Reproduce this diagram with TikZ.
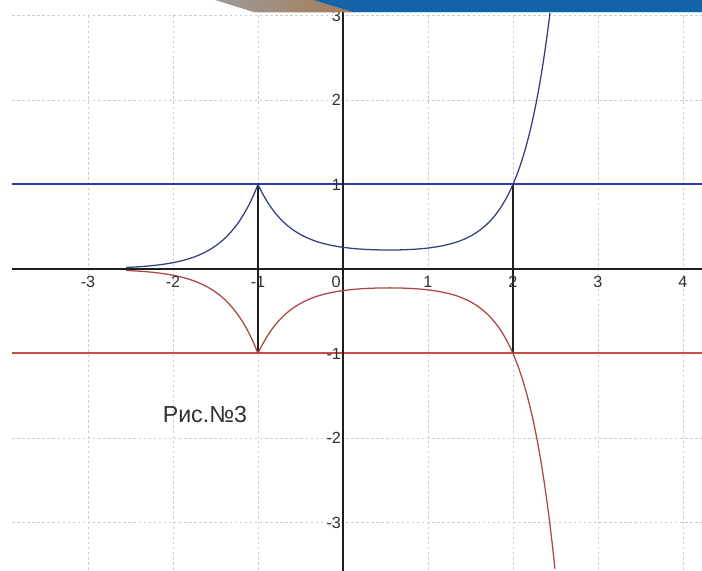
\documentclass[tikz,border=0pt]{standalone}
\usepackage{fontspec}
\setmainfont{Liberation Sans}
\usetikzlibrary{calc}
\definecolor{gridc}{HTML}{CDCDCD}
\definecolor{axc}{HTML}{1E1E1E}
\definecolor{bline}{HTML}{2A3CA8}
\definecolor{rline}{HTML}{CC4A4A}
\definecolor{bcurve}{HTML}{34407E}
\definecolor{rcurve}{HTML}{AC4646}
\definecolor{band}{HTML}{1462A8}
\definecolor{bandlt}{HTML}{BDE3F4}
\definecolor{wedge}{HTML}{9C9C9C}
\definecolor{wedgebr}{HTML}{A87A52}
\definecolor{txt}{HTML}{303030}

\begin{document}
\begin{tikzpicture}[
    x=2.125cm,y=2.1125cm,
    font=\fontsize{11.5}{12}\selectfont,
    gridline/.style={gridc,line width=0.5pt,dash pattern=on 1.8pt off 1.8pt},
    axisline/.style={axc,line width=1.1pt},
    levelline/.style={line width=1.4pt},
    curve/.style={line width=0.9pt,smooth},
    ticklbl/.style={txt,inner sep=0pt},
  ]

  \def\xl{-4.035}      % left edge
  \def\xr{4.224}       % right edge
  \def\yb{-3.574}      % bottom edge
  \def\yt{3.183}       % top edge
  \def\xs{-3.894}      % where the horizontal lines start
  \useasboundingbox (\xl,\yb) rectangle (\xr,\yt);

  % ============================================================= GRID
  \foreach \k in {-3,-2,-1,1,2,3,4}
    \draw[gridline] (\k,3) -- (\k,\yb);
  \foreach \k in {-3,-2,2,3}
    \draw[gridline] (\xs,\k) -- (\xr,\k);

  % ============================================================= LEVELS
  \draw[levelline,bline] (\xs,1) -- (\xr,1);
  \draw[levelline,rline] (\xs,-1) -- (\xr,-1);

  % ============================================================= AXES
  \draw[axisline] (\xs,0) -- (\xr,0);
  \draw[axisline] (0,3.1) -- (0,\yb);
  \draw[axisline,line width=0.9pt] (-1,-1) -- (-1,1);
  \draw[axisline,line width=0.9pt] (2,-1) -- (2,1);

  % ============================================================= CURVES
  % |y| = f(x): left branch and middle/right branch, mirrored below
  \draw[curve,bcurve,domain=-2.55:-1,samples=60]
    plot (\x,{exp(2.6*(\x+1))});
  \draw[curve,bcurve,domain=-1:2.451,samples=120]
    plot (\x,{0.2+0.8*exp(-2.7*(\x+1))+0.8*exp(2.9*(\x-2))});
  \draw[curve,rcurve,domain=-2.55:-1,samples=60]
    plot (\x,{-exp(2.6*(\x+1))});
  \draw[curve,rcurve,domain=-1:2.494,samples=120]
    plot (\x,{-0.2-0.8*exp(-2.7*(\x+1))-0.8*exp(2.9*(\x-2))});

  % ============================================================= LABELS
  \foreach \k in {-3,-2,-1,1,2,3,4}
    \node[ticklbl] (xl\k) at (\k,-0.155) {\k};
  \node[ticklbl] (xl0) at (-0.08,-0.155) {0};
  \foreach \k in {-3,-2,-1,1,2,3}
    \node[ticklbl,anchor=east] (yl\k) at (-0.02,\k) {\k};
  \node[txt,font=\fontsize{16.5}{18}\selectfont] (fig) at (-1.624,-1.728)
    {Рис.№3};

  % ============================================================= BANNER
  \shade[left color=wedge,right color=wedgebr]
    (-1.506,\yt) -- (-1.035,3.036) -- (0.129,3.036) -- (-0.353,\yt) -- cycle;
  \fill[band] (-0.353,\yt) -- (0.129,3.036) -- (\xr,3.036) -- (\xr,\yt) -- cycle;
  \draw[bandlt,line width=0.8pt] (0.129,3.036) -- (\xr,3.036);

\end{tikzpicture}
\end{document}
